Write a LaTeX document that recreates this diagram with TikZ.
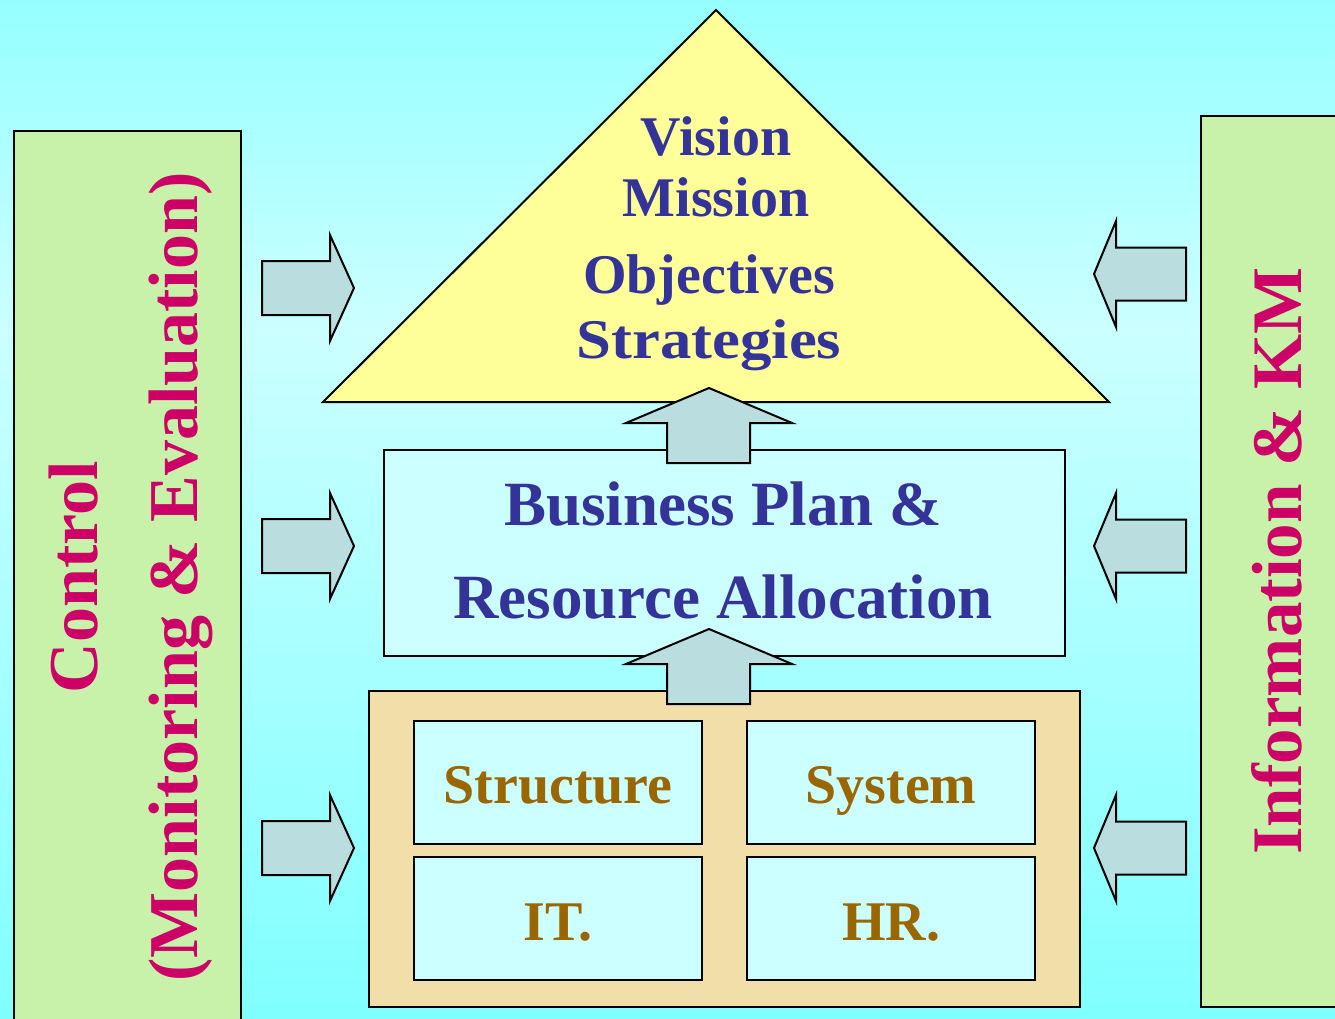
\documentclass[tikz,border=0pt]{standalone}
\usepackage{fontspec}
\setmainfont{Liberation Serif}
\definecolor{bgA}{RGB}{150,255,255}
\definecolor{bgB}{RGB}{204,255,255}
\definecolor{bgC}{RGB}{128,255,255}
\definecolor{greenc}{RGB}{200,242,170}
\definecolor{yellowc}{RGB}{255,255,153}
\definecolor{lightc}{RGB}{204,255,255}
\definecolor{beigec}{RGB}{242,222,168}
\definecolor{arrowc}{RGB}{186,222,224}
\definecolor{txtblue}{RGB}{51,51,153}
\definecolor{txtmag}{RGB}{204,0,102}
\definecolor{txtbrown}{RGB}{153,102,0}
\tikzset{
  box/.style={draw=black, line width=2pt, inner sep=0pt, anchor=north west},
  blockarr/.style={draw=black, line width=2pt, fill=arrowc, line join=miter},
  bluetxt/.style={text=txtblue, inner sep=0pt, anchor=base, font=\bfseries\fontsize{56}{56}\selectfont},
  bigblue/.style={text=txtblue, inner sep=0pt, anchor=base, font=\bfseries\fontsize{63}{63}\selectfont},
  browntxt/.style={text=txtbrown, inner sep=0pt, anchor=base, font=\bfseries\fontsize{56}{56}\selectfont},
  magtxt/.style={text=txtmag, inner sep=0pt, anchor=base, rotate=90, font=\bfseries\fontsize{70}{70}\selectfont},
  pics/rarrow/.style={code={\draw[blockarr] (-46,-27) -- (22,-27) -- (22,-53) -- (46,0) -- (22,53) -- (22,27) -- (-46,27) -- cycle;}},
  pics/larrow/.style={code={\draw[blockarr] (46,-26.5) -- (-24,-26.5) -- (-24,-53) -- (-46,0) -- (-24,53) -- (-24,26.5) -- (46,26.5) -- cycle;}},
  pics/uarrow/.style={code={\draw[blockarr] (0,0) -- (83,35) -- (41,35) -- (41,75) -- (-42,75) -- (-42,35) -- (-83,35) -- cycle;}}
}
\begin{document}
\begin{tikzpicture}[x=1pt,y=-1pt]
\useasboundingbox (0,0) rectangle (1335,1019);
\clip (0,0) rectangle (1335,1019);
% background
\shade[top color=bgA, bottom color=bgB] (0,0) rectangle (1335,331);
\shade[top color=bgB, bottom color=bgC] (0,330) rectangle (1335,1019);

% side panels
\node[box, fill=greenc, minimum width=227pt, minimum height=930pt] (ctrl) at (13,130) {};
\node[box, fill=greenc, minimum width=160pt, minimum height=891pt] (info) at (1200,115) {};
\node[magtxt] (ctrltxt) at (97,577) {Control};
\node[magtxt] (montxt) at (197,577) {(Monitoring \& Evaluation)};
\node[magtxt, font=\bfseries\fontsize{71}{71}\selectfont] (infotxt) at (1301,561) {Information \& KM};

% triangle
\coordinate (apex) at (716,10);
\coordinate (tl) at (323,402);
\coordinate (tr) at (1109,402);
\draw[line width=2pt, fill=yellowc, line join=miter] (apex) -- (tr) -- (tl) -- cycle;
\node[bluetxt] (vision) at (716,156) {Vision};
\node[bluetxt] (mission) at (716,216) {Mission};
\node[bluetxt] (obj) at (709,293) {Objectives};
\node[bluetxt] (strat) at (709,358) {\scalebox{1.12}[1]{Strategies}};

% business plan
\node[box, fill=lightc, minimum width=681pt, minimum height=206pt] (bp) at (383,449) {};
\node[bigblue] (bp1) at (723,525) {Business Plan \&};
\node[bigblue] (bp2) at (723,618) {Resource Allocation};

% resources
\node[box, fill=beigec, minimum width=711pt, minimum height=316pt] (res) at (368,690) {};
\node[box, fill=lightc, minimum width=288pt, minimum height=123pt] (st) at (413,720) {};
\node[box, fill=lightc, minimum width=288pt, minimum height=123pt] (sy) at (746,720) {};
\node[box, fill=lightc, minimum width=288pt, minimum height=123pt] (it) at (413,856) {};
\node[box, fill=lightc, minimum width=288pt, minimum height=123pt] (hr) at (746,856) {};
\node[browntxt] (sttxt) at (st.center |- 0,803) {Structure};
\node[browntxt] (sytxt) at (sy.center |- 0,803) {System};
\node[browntxt] (ittxt) at (it.center |- 0,940) {IT.};
\node[browntxt] (hrtxt) at (hr.center |- 0,940) {HR.};

% up arrows
\pic at (709,388) {uarrow};
\pic at (709,629) {uarrow};

% right-pointing arrows
\pic at (308,288) {rarrow};
\pic at (308,546) {rarrow};
\pic at (308,848) {rarrow};

% left-pointing arrows
\pic at (1140,274) {larrow};
\pic at (1140,546) {larrow};
\pic at (1140,848) {larrow};
\end{tikzpicture}
\end{document}
